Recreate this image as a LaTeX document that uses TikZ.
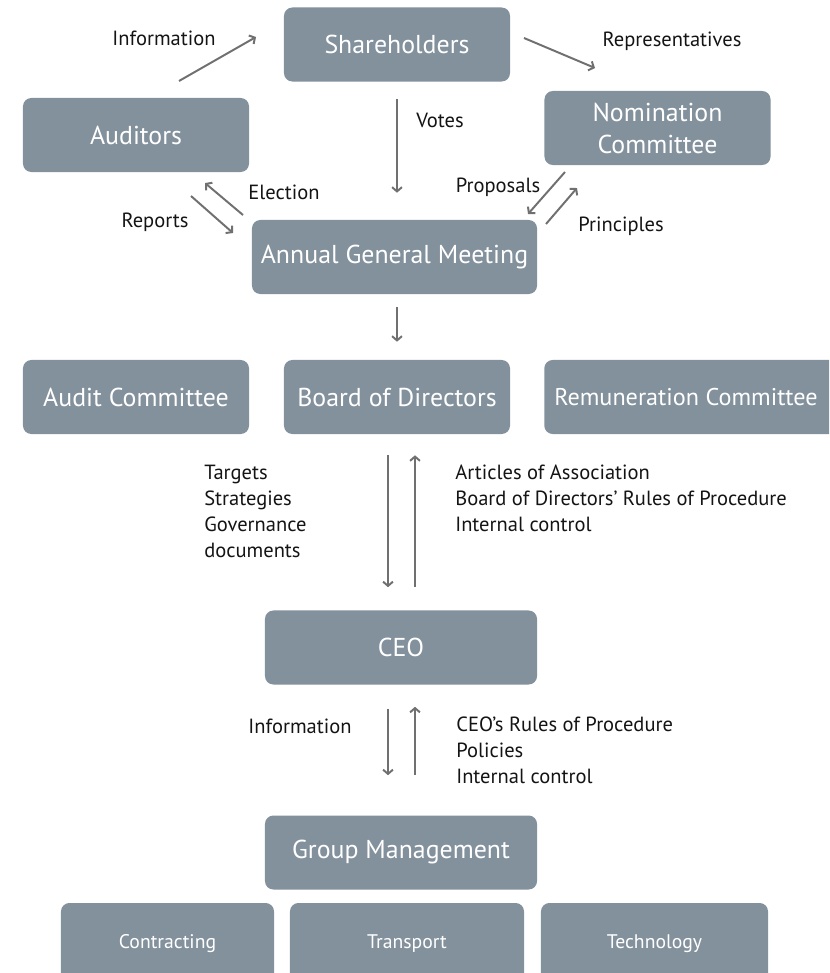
\documentclass[tikz,border=0pt]{standalone}
\usepackage{fontspec}
\setmainfont{PT Sans}
\usetikzlibrary{arrows.meta,positioning}
\definecolor{boxgray}{RGB}{131,145,157}
\definecolor{arrowgray}{RGB}{112,112,112}
\definecolor{labelblack}{RGB}{20,20,20}

\begin{document}
\begin{tikzpicture}[x=0.025cm,y=-0.025cm,
  box/.style={rectangle,rounded corners=6pt,fill=boxgray,text=white,
    minimum width=5.65cm,minimum height=1.85cm,align=center,
    font=\fontsize{18.4}{22.7}\selectfont},
  unit box/.style={box,minimum height=2.05cm,font=\fontsize{14}{16}\selectfont},
  lbl/.style={text=labelblack,align=left,inner sep=0pt,
    font=\fontsize{14.6}{18.4}\selectfont},
  flow/.style={draw=arrowgray,line width=1.4pt,
    -{Straight Barb[length=3pt,width=7pt]}}]

  \useasboundingbox (0,0) rectangle (829,973);
  \clip (0,0) rectangle (829,973);

  % Owners and the AGM
  \node[box]                       (Share)      at (397,44.5)  {Shareholders};
  \node[box]                       (Auditors)   at (136,135)   {Auditors};
  \node[box]                       (Nomination) at (657.5,128) {Nomination\\Committee};
  \node[box,minimum width=7.125cm] (AGM)        at (394.5,257) {Annual General Meeting};

  % Board and committees
  \node[box]                       (Board)      at (397,397)   {Board of Directors};
  \node[box]                       (Audit)      at (136,397)   {Audit Committee};
  \node[box,anchor=west,minimum width=0pt,inner xsep=0.25cm,
        font=\fontsize{17.2}{22}\selectfont]
                                   (Remun)      at (544,397)   {Remuneration Committee\hspace{0.4cm}};

  % Management
  \node[box,minimum width=6.8cm]   (CEO)        at (401,647.5) {CEO};
  \node[box,minimum width=6.8cm]   (GM)         at (401,852.5) {Group Management};
  \node[unit box,minimum width=5.325cm] (Contract) at (167.5,944) {Contracting};
  \node[unit box,minimum width=5.85cm]  (Transp)   at (407,944)   {Transport};
  \node[unit box,minimum width=5.675cm] (Techn)    at (654.5,944) {Technology};

  % Free ends of the slanted arrows
  \coordinate (info a)  at (179,81);   \coordinate (info b)  at (256,37);
  \coordinate (repr a)  at (524,38);   \coordinate (repr b)  at (595,68);
  \coordinate (elec a)  at (243,215);  \coordinate (elec b)  at (205,183);
  \coordinate (rep a)   at (191,196);  \coordinate (rep b)   at (233,233);
  \coordinate (prop a)  at (565,172);  \coordinate (prop b)  at (528,214);
  \coordinate (princ a) at (546,224);  \coordinate (princ b) at (577,188);

  \path
  (info a)  edge[flow] (info b)
  (repr a)  edge[flow] (repr b)
  (elec a)  edge[flow] (elec b)
  (rep a)   edge[flow] (rep b)
  (prop a)  edge[flow] (prop b)
  (princ a) edge[flow] (princ b);

  % Vertical arrows
  \path
  (Share.south) edge[flow,shorten <=0.425cm,shorten >=0.675cm] (Share.south |- AGM.north)
  (Board.north |- AGM.south) edge[flow,shorten <=0.325cm,shorten >=0.45cm] (Board.north);
  \path
  ([xshift=-0.225cm]Board.south) edge[flow,shorten <=0.525cm,shorten >=0.575cm]
    ([xshift=-0.225cm]Board.south |- CEO.north)
  ([xshift=0.45cm]Board.south |- CEO.north) edge[flow,shorten <=0.575cm,shorten >=0.525cm]
    ([xshift=0.45cm]Board.south)
  ([xshift=-0.225cm]Board.south |- CEO.south) edge[flow,shorten <=0.6cm,shorten >=1cm]
    ([xshift=-0.225cm]Board.south |- GM.north)
  ([xshift=0.45cm]Board.south |- GM.north) edge[flow,shorten <=1cm,shorten >=0.55cm]
    ([xshift=0.45cm]Board.south |- CEO.south);

  % Labels
  \node[lbl] (l info)  at (164,38)  {Information};
  \node[lbl] (l repr)  at (672,41)  {Representatives};
  \node[lbl] (l votes) at (440,120) {Votes};
  \node[lbl] (l elec)  at (284,192) {Election};
  \node[lbl] (l rep)   at (155,222) {Reports};
  \node[lbl] (l prop)  at (498,187) {Proposals};
  \node[lbl] (l princ) at (621,226) {Principles};
  \node[lbl,anchor=north west] (l targets) at (204,465)
    {Targets\\Strategies\\Governance\\documents};
  \node[lbl,anchor=north west] (l articles) at (455,465)
    {Articles of Association\\Board of Directors’ Rules of Procedure\\Internal control};
  \node[lbl] (l info2) at (300,726) {Information};
  \node[lbl,anchor=north west] (l ceo rules) at (456,717)
    {CEO’s Rules of Procedure\\Policies\\Internal control};
\end{tikzpicture}
\end{document}
